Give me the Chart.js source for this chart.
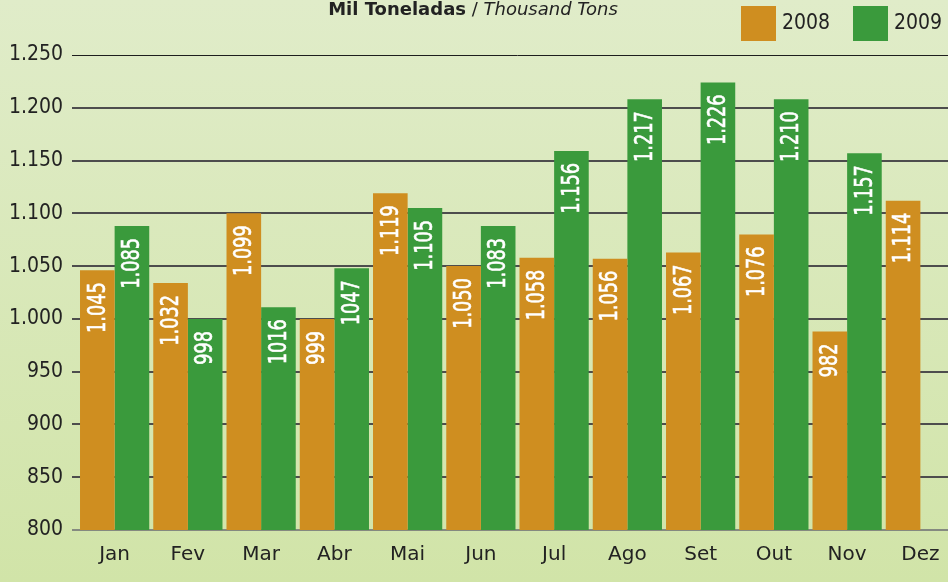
<!DOCTYPE html>
<html>
<head>
<meta charset="utf-8">
<script src="https://cdn.jsdelivr.net/npm/chart.js@4"></script>
<style>
  html, body { margin: 0; padding: 0; overflow: hidden; }
  body { width: 948px; height: 582px; background: linear-gradient(#e0ecc9, #d1e4a8); }
  #wrap { width: 957px; height: 582px; }
</style>
</head>
<body>
<div id="wrap"><canvas id="chart" width="957" height="582"></canvas></div>
<script>
// months (Portuguese) and the two years
const months = ['Jan', 'Fev', 'Mar', 'Abr', 'Mai', 'Jun', 'Jul', 'Ago', 'Set', 'Out', 'Nov', 'Dez'];
const years = ['2008', '2009'];

// bar heights (thousand tons)
const values2008 = [1046, 1034, 1100, 1000, 1119, 1050, 1058, 1057, 1063, 1080, 988, 1112];
const values2009 = [1088, 1000, 1011, 1048, 1105, 1088, 1159, 1208, 1224, 1208, 1157, null];

// the numbers printed inside the bars
const labels2008 = ['1.045', '1.032', '1.099', '999', '1.119', '1.050', '1.058', '1.056', '1.067', '1.076', '982', '1.114'];
const labels2009 = ['1.085', '998', '1016', '1047', '1.105', '1.083', '1.156', '1.217', '1.226', '1.210', '1.157', null];

// y axis range
const yMin = 800;
const yMax = 1250;
const yStep = 50;

const colors = ['#cf8e20', '#3a9a3c'];

// 1250 -> "1.250"
function fmt(v) {
  if (v < 1000) return String(v);
  return Math.floor(v / 1000) + '.' + String(v % 1000).padStart(3, '0');
}

// white rotated numbers inside the bars
const barLabels = {
  id: 'barLabels',
  afterDatasetsDraw(chart) {
    const ctx = chart.ctx;
    const texts = [labels2008, labels2009];
    chart.data.datasets.forEach((ds, i) => {
      chart.getDatasetMeta(i).data.forEach((bar, j) => {
        const t = texts[i][j];
        if (!t) return;
        ctx.save();
        ctx.translate(bar.x + 1, bar.y + 12);
        ctx.rotate(-Math.PI / 2);
        ctx.scale(0.82, 1); // narrow digits like the original
        ctx.textAlign = 'right';
        ctx.textBaseline = 'middle';
        ctx.fillStyle = '#ffffff';
        ctx.strokeStyle = '#ffffff';
        ctx.lineWidth = 0.6;
        ctx.font = '24px "DejaVu Sans Condensed", sans-serif';
        ctx.fillText(t, 0, 0);
        ctx.strokeText(t, 0, 0);
        ctx.restore();
      });
    });
  }
};

// title + legend boxes at the top
const header = {
  id: 'header',
  afterDraw(chart) {
    const ctx = chart.ctx;
    ctx.save();
    ctx.textBaseline = 'middle';
    ctx.fillStyle = '#222';
    const parts = [
      ['Mil Toneladas', 'bold 18px "DejaVu Sans", sans-serif'],
      [' / ', '18px "DejaVu Sans", sans-serif'],
      ['Thousand Tons', 'italic 18px "DejaVu Sans", sans-serif']
    ];
    let total = 0;
    parts.forEach(p => { ctx.font = p[1]; total += ctx.measureText(p[0]).width; });
    let x = 473 - total / 2;
    parts.forEach(p => {
      ctx.font = p[1];
      ctx.fillText(p[0], x, 10);
      x += ctx.measureText(p[0]).width;
    });

    // legend
    const starts = [741, 853];
    chart.data.datasets.forEach((ds, i) => {
      ctx.fillStyle = ds.backgroundColor;
      ctx.fillRect(starts[i], 6, 35, 35);
      ctx.fillStyle = '#222';
      ctx.font = '21px "DejaVu Sans Condensed", sans-serif';
      ctx.textAlign = 'left';
      ctx.fillText(ds.label, starts[i] + 41, 24);
    });
    ctx.restore();
  }
};

new Chart(document.getElementById('chart'), {
  type: 'bar',
  data: {
    labels: months,
    datasets: [
      { label: years[0], data: values2008, backgroundColor: colors[0] },
      { label: years[1], data: values2009, backgroundColor: colors[1] }
    ]
  },
  options: {
    responsive: false,
    animation: false,
    layout: { padding: { top: 55, bottom: 2, left: 0, right: 0 } },
    datasets: {
      bar: { categoryPercentage: 0.945, barPercentage: 1.0, borderWidth: 0 }
    },
    plugins: {
      legend: { display: false },
      title: { display: false },
      tooltip: { enabled: false }
    },
    scales: {
      x: {
        grid: { display: false, drawTicks: false },
        border: { display: false },
        ticks: {
          padding: 13,
          color: '#222',
          font: { family: '"DejaVu Sans", sans-serif', size: 20 }
        }
      },
      y: {
        min: yMin,
        max: yMax,
        afterFit(scale) { scale.width = 78; },
        border: { display: false },
        grid: {
          tickLength: 6,
          color: ctx => ctx.tick && ctx.tick.value === yMax ? '#1e1e1e' : (ctx.tick && ctx.tick.value === yMin ? '#858a80' : '#4d4d4d'),
          lineWidth: ctx => ctx.tick && ctx.tick.value === yMax ? 1 : 2
        },
        ticks: {
          stepSize: yStep,
          padding: 9,
          color: '#222',
          font: { family: '"DejaVu Sans Condensed", sans-serif', size: 21 },
          callback: v => fmt(v)
        }
      }
    }
  },
  plugins: [barLabels, header]
});
</script>
</body>
</html>
